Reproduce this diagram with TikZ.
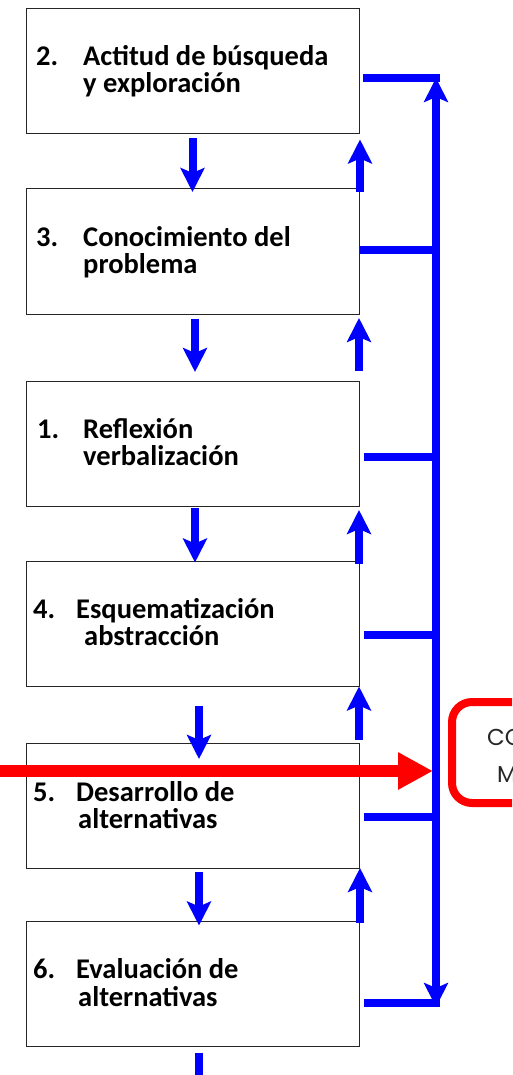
\documentclass[tikz,border=0pt]{standalone}
\usepackage{fontspec}
\setmainfont{Carlito}
\newfontfamily\geofont{Poppins}
\usetikzlibrary{arrows.meta,calc}
\begin{document}
\begin{tikzpicture}[x=1pt,y=-1pt,
  stepbox/.style={draw=black!85,line width=1pt,fill=white,minimum width=333pt,minimum height=125pt,inner sep=0pt,outer sep=0pt},
  lbl/.style={anchor=base west,inner sep=0pt,font=\bfseries\fontsize{28.5}{27}\selectfont},
  flow/.style={draw=blue,line width=8pt,-{Stealth[width=24pt,length=24pt,inset=5pt]}},
  bus/.style={draw=blue,line width=8pt},
  goallbl/.style={anchor=base west,inner sep=0pt,text=black!85,font=\geofont\fontsize{23}{23}\selectfont}]
\clip (0,0) rectangle (512,1075);
\fill[white] (0,0) rectangle (512,1075);

% boxes
\node[stepbox] (b1) at (192.5,71) {};
\node[stepbox] (b2) at (192.5,251.5) {};
\node[stepbox] (b3) at (192.5,443.5) {};
\node[stepbox] (b4) at (192.5,624) {};
\node[stepbox] (b5) at (192.5,805.5) {};
\node[stepbox] (b6) at (192.5,984) {};

% labels
\node[lbl] (n1) at (36,66) {2.};
\node[lbl] (t1a) at (83,66) {Actitud de búsqueda};
\node[lbl] (t1b) at (83,93) {y exploración};
\node[lbl] (n2) at (36,247) {3.};
\node[lbl] (t2a) at (83,247) {Conocimiento del};
\node[lbl] (t2b) at (83,273) {problema};
\node[lbl] (n3) at (37,438) {1.};
\node[lbl] (t3a) at (83,438) {Reflexión};
\node[lbl] (t3b) at (83,465) {verbalización};
\node[lbl] (n4) at (33,618) {4.};
\node[lbl] (t4a) at (76,618) {Esquematización};
\node[lbl] (t4b) at (84,645) {abstracción};
\node[lbl] (n5) at (33,801) {5.};
\node[lbl] (t5a) at (76,801) {Desarrollo de};
\node[lbl] (t5b) at (78,828) {alternativas};
\node[lbl] (n6) at (33,978) {6.};
\node[lbl] (t6a) at (76,978) {Evaluación de};
\node[lbl] (t6b) at (78,1006) {alternativas};

% down arrows
\draw[flow] ($(b1.south)+(0,5)$) -- ($(b2.north)+(0,3)$);
\draw[flow] ($(b2.south)+(2.5,5)$) -- ($(b3.north)+(2.5,-9)$);
\draw[flow] ($(b3.south)+(2.5,2)$) -- ($(b4.north)+(2.5,1)$);
\draw[flow] ($(b4.south)+(6.5,19)$) -- ($(b5.north)+(6.5,16)$);
\draw[flow] ($(b5.south)+(6.5,4)$) -- ($(b6.north)+(6.5,4)$);
\coordinate (tail) at (199,1085);
\draw[bus] ($(b6.south)+(6.5,6)$) -- (tail);

% up arrows
\draw[flow] ($(b2.north east)+(1,3)$) -- ($(b1.south east)+(1,6)$);
\draw[flow] ($(b3.north east)+(0,-10)$) -- ($(b2.south east)+(0,4)$);
\draw[flow] ($(b4.north east)+(0,2)$) -- ($(b3.south east)+(0,4)$);
\draw[flow] ($(b5.north east)+(0,-3)$) -- ($(b4.south east)+(0,0)$);
\draw[flow] ($(b6.north east)+(1,1)$) -- ($(b5.south east)+(1,0)$);

% bus
\coordinate (bt) at (436,78);
\coordinate (bb) at (436,1007);
\coordinate (r1) at ($(b1.east)+(4,7)$);
\coordinate (r2) at ($(b2.east)+(1,-1.5)$);
\coordinate (r3) at ($(b3.east)+(5,13.5)$);
\coordinate (r4) at ($(b4.east)+(5,11)$);
\coordinate (r5) at ($(b5.east)+(5,11.5)$);
\coordinate (r6) at ($(b6.east)+(5,19)$);
\draw[bus] (r1) -- ($(r1 -| bt)+(4,0)$);
\draw[bus] (r2) -- (r2 -| bt);
\draw[bus] (r3) -- (r3 -| bt);
\draw[bus] (r4) -- (r4 -| bt);
\draw[bus] (r5) -- (r5 -| bt);
\draw[bus] (r6) -- ($(r6 -| bt)+(4,0)$);
\draw[bus,{Stealth[width=24pt,length=24pt,inset=5pt]}-{Stealth[width=24pt,length=24pt,inset=5pt]}] (bt) -- (bb);

% red input arrow
\coordinate (rs) at (-5,771);
\draw[red,line width=12pt,-{Triangle[width=35pt,length=35pt]}] (rs) -- ($(bt |- rs)+(-3,0)$);

% goal box
\node[draw=red,line width=8pt,rounded corners=20pt,minimum width=148pt,minimum height=101pt,inner sep=0pt] (goal) at (526,752.5) {};
\node[goallbl] (g1) at (487,745) {CO};
\node[goallbl] (g2) at (497,782) {M};
\end{tikzpicture}
\end{document}
